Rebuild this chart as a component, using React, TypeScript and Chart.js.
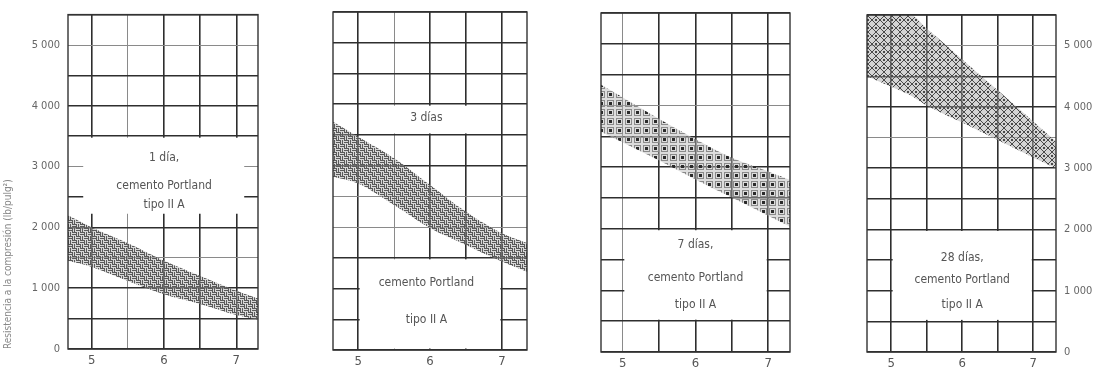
import React, { useEffect, useRef } from 'react';
import { Chart, registerables } from 'chart.js';

Chart.register(...registerables);

// ---------- data ----------
const xTickValues = [5, 5.5, 6, 6.5, 7];
const xTickLabels = ['5', '', '6', '', '7'];
const yTickValues = [0, 500, 1000, 1500, 2000, 2500, 3000, 3500, 4000, 4500, 5000, 5500];
const yTickLabels = ['0', '', '1 000', '', '2 000', '', '3 000', '', '4 000', '', '5 000', ''];
const yAxisTitle = 'Resistencia a la compresión (lb/pulg²)';

const day1X = [4.67, 5, 5.5, 6, 6.5, 7, 7.3];
const day1Upper = [2200, 2000, 1740, 1450, 1200, 960, 830];
const day1Lower = [1450, 1350, 1120, 900, 740, 560, 480];

const day3X = [4.65, 5, 5.5, 6, 6.5, 7, 7.35];
const day3Upper = [3715, 3470, 3120, 2685, 2250, 1900, 1740];
const day3Lower = [2820, 2710, 2360, 1985, 1710, 1440, 1275];

const day7X = [4.7, 5, 5.5, 6, 6.5, 7, 7.3];
const day7Upper = [4335, 4130, 3780, 3450, 3150, 2930, 2790];
const day7Lower = [3575, 3400, 3105, 2800, 2505, 2210, 2035];

const day28X = [4.66, 5, 5.27, 5.5, 6, 6.5, 7, 7.32];
const day28Upper = [5500, 5500, 5500, 5280, 4775, 4270, 3760, 3435];
const day28Lower = [4500, 4330, 4190, 4025, 3745, 3460, 3175, 3000];

const day1Text = ['1 día,', 'cemento Portland', 'tipo II A'];
const day3Text = ['3 días'];
const day3Text2 = ['cemento Portland', 'tipo II A'];
const day7Text = ['7 días,', 'cemento Portland', 'tipo II A'];
const day28Text = ['28 días,', 'cemento Portland', 'tipo II A'];

// ---------- layout / style ----------
const FONT = "'Liberation Sans Narrow', 'DejaVu Sans Condensed', 'Roboto Condensed', 'Liberation Sans', sans-serif";

type Panel = {
  left: number; width: number;
  plot: { l: number; t: number; r: number; b: number };
  xMin: number; xMax: number;
  xs: number[]; upper: number[]; lower: number[];
  pattern: 'weave' | 'dots' | 'maze';
  axis: 'left' | 'right' | 'none';
  boxes: { x0: number; x1: number; y0: number; y1: number }[];
  labels: { text: string; x: number; y: number }[];
  thinX: number[]; thinY: number[];
};

const PANELS: Panel[] = [
  {
    left: 0, width: 262, plot: { l: 68, t: 11, r: 258, b: 349 }, xMin: 4.67, xMax: 7.3,
    xs: day1X, upper: day1Upper, lower: day1Lower, pattern: 'weave', axis: 'left',
    boxes: [{ x0: 4.86, x1: 7.13, y0: 2200, y1: 3500 }],
    labels: [
      { text: day1Text[0], x: 6, y: 3144 },
      { text: day1Text[1], x: 6, y: 2690 },
      { text: day1Text[2], x: 6, y: 2366 },
    ],
    thinX: [5.5], thinY: [1500, 3000, 5000],
  },
  {
    left: 300, width: 232, plot: { l: 333, t: 12, r: 527, b: 350 }, xMin: 4.65, xMax: 7.35,
    xs: day3X, upper: day3Upper, lower: day3Lower, pattern: 'weave', axis: 'none',
    boxes: [{ x0: 5, x1: 7, y0: 3500, y1: 4000 }, { x0: 5, x1: 7, y0: 0, y1: 1500 }],
    labels: [
      { text: day3Text[0], x: 5.95, y: 3775 },
      { text: day3Text2[0], x: 5.95, y: 1090 },
      { text: day3Text2[1], x: 5.95, y: 490 },
    ],
    thinX: [5.5], thinY: [2500, 2000],
  },
  {
    left: 570, width: 225, plot: { l: 601, t: 13, r: 790, b: 352 }, xMin: 4.7, xMax: 7.3,
    xs: day7X, upper: day7Upper, lower: day7Lower, pattern: 'dots', axis: 'none',
    boxes: [{ x0: 5, x1: 7, y0: 500, y1: 2000 }],
    labels: [
      { text: day7Text[0], x: 6, y: 1737 },
      { text: day7Text[1], x: 6, y: 1200 },
      { text: day7Text[2], x: 6, y: 763 },
    ],
    thinX: [5], thinY: [4000],
  },
  {
    left: 840, width: 264, plot: { l: 867, t: 15, r: 1056, b: 352 }, xMin: 4.66, xMax: 7.32,
    xs: day28X, upper: day28Upper, lower: day28Lower, pattern: 'maze', axis: 'right',
    boxes: [{ x0: 5, x1: 7, y0: 500, y1: 2000 }],
    labels: [
      { text: day28Text[0], x: 6, y: 1533 },
      { text: day28Text[1], x: 6, y: 1175 },
      { text: day28Text[2], x: 6, y: 767 },
    ],
    thinX: [], thinY: [5000, 3500],
  },
];

function makePattern(kind: string, ctx: CanvasRenderingContext2D): CanvasPattern | string {
  const c = document.createElement('canvas');
  const g = c.getContext('2d');
  if (!g) return 'rgba(90,90,90,0.6)';
  if (kind === 'weave') {
    c.width = 8; c.height = 8;
    g.fillStyle = 'rgba(175,175,175,0.5)';
    g.fillRect(0, 0, 8, 8);
    g.fillStyle = '#5a5a5a';
    g.fillRect(0, 0, 4, 1); g.fillRect(0, 2, 4, 1);
    g.fillRect(4, 0, 1, 4); g.fillRect(6, 0, 1, 4);
    g.fillRect(0, 4, 1, 4); g.fillRect(2, 4, 1, 4);
    g.fillRect(4, 4, 4, 1); g.fillRect(4, 6, 4, 1);
  } else if (kind === 'dots') {
    c.width = 9; c.height = 9;
    g.fillStyle = 'rgba(180,180,180,0.45)';
    g.fillRect(0, 0, 9, 9);
    g.strokeStyle = '#8a8a8a';
    g.lineWidth = 1;
    g.strokeRect(1.5, 1.5, 6, 6);
    g.fillStyle = '#2a2a2a';
    g.fillRect(3, 3, 3, 3);
  } else {
    c.width = 8; c.height = 8;
    g.fillStyle = 'rgba(170,170,170,0.5)';
    g.fillRect(0, 0, 8, 8);
    g.strokeStyle = '#4a4a4a';
    g.lineWidth = 1;
    g.beginPath();
    g.moveTo(4, 0); g.lineTo(8, 4); g.lineTo(4, 8); g.lineTo(0, 4); g.closePath();
    g.stroke();
    g.fillStyle = '#4a4a4a';
    g.fillRect(3, 3, 2, 2);
  }
  return ctx.createPattern(c, 'repeat') || 'rgba(90,90,90,0.6)';
}

const decorPlugin = {
  id: 'decor',
  beforeDatasetsDraw(chart: any, _args: any, opts: any) {
    const { ctx, scales } = chart;
    const x = scales.x, y = scales.y;
    ctx.save();
    ctx.fillStyle = '#ffffff';
    (opts.boxes || []).forEach((b: any) => {
      const l = x.getPixelForValue(b.x0) + 1.5;
      const r = x.getPixelForValue(b.x1) - 1.5;
      const t = y.getPixelForValue(b.y1) + 1.5;
      const bt = y.getPixelForValue(b.y0) - 1.5;
      ctx.fillRect(l, t, r - l, bt - t);
    });
    ctx.fillStyle = '#555555';
    ctx.font = `12px ${FONT}`;
    ctx.textAlign = 'center';
    ctx.textBaseline = 'middle';
    (opts.labels || []).forEach((lb: any) => {
      ctx.fillText(lb.text, x.getPixelForValue(lb.x), y.getPixelForValue(lb.y));
    });
    ctx.restore();
  },
  afterDatasetsDraw(chart: any) {
    const { ctx, chartArea } = chart;
    ctx.save();
    ctx.strokeStyle = '#333333';
    ctx.lineWidth = 1.4;
    ctx.strokeRect(chartArea.left, chartArea.top, chartArea.right - chartArea.left, chartArea.bottom - chartArea.top);
    ctx.restore();
  },
};

function PanelChart({ p }: { p: Panel }) {
  const ref = useRef<HTMLCanvasElement | null>(null);
  useEffect(() => {
    const canvas = ref.current;
    if (!canvas) return;
    const ctx = canvas.getContext('2d');
    if (!ctx) return;
    const fill = makePattern(p.pattern, ctx);
    const canvasRight = p.left + p.width;
    const chart = new Chart(canvas, {
      type: 'line',
      data: {
        datasets: [
          {
            data: p.xs.map((v, i) => ({ x: v, y: p.lower[i] })),
            borderWidth: 0, pointRadius: 0, fill: false,
            cubicInterpolationMode: 'monotone',
            borderColor: 'rgba(0,0,0,0)',
          },
          {
            data: p.xs.map((v, i) => ({ x: v, y: p.upper[i] })),
            borderWidth: 0, pointRadius: 0, fill: '-1',
            backgroundColor: fill as any,
            cubicInterpolationMode: 'monotone',
            borderColor: 'rgba(0,0,0,0)',
          },
        ],
      },
      options: {
        animation: false,
        responsive: false,
        maintainAspectRatio: false,
        layout: {
          padding: {
            left: p.axis === 'left' ? 0 : p.plot.l - p.left,
            right: p.axis === 'right' ? 0 : canvasRight - p.plot.r,
            top: p.plot.t,
            bottom: 0,
          },
        },
        plugins: {
          legend: { display: false },
          tooltip: { enabled: false },
          decor: { boxes: p.boxes, labels: p.labels },
        } as any,
        scales: {
          x: {
            type: 'linear',
            min: p.xMin,
            max: p.xMax,
            afterBuildTicks: (s: any) => { s.ticks = xTickValues.map((v) => ({ value: v })); },
            afterFit: (s: any) => { s.height = 377 - p.plot.b; },
            ticks: {
              autoSkip: false,
              maxRotation: 0,
              padding: 4,
              color: '#555',
              font: { family: FONT, size: 13 },
              callback: (v: any) => xTickLabels[xTickValues.indexOf(Number(v))] ?? '',
            },
            grid: {
              drawTicks: false,
              lineWidth: (c: any) => (p.thinX.includes(c.tick?.value) ? 1 : 1.6),
              color: (c: any) => (p.thinX.includes(c.tick?.value) ? '#8a8a8a' : '#2e2e2e'),
            },
            border: { display: false },
          },
          y: {
            type: 'linear',
            position: p.axis === 'right' ? 'right' : 'left',
            min: 0,
            max: 5500,
            afterBuildTicks: (s: any) => { s.ticks = yTickValues.map((v) => ({ value: v })); },
            afterFit: (s: any) => {
              s.width = p.axis === 'left' ? p.plot.l - p.left : p.axis === 'right' ? canvasRight - p.plot.r : 0;
            },
            ticks: {
              display: p.axis !== 'none',
              autoSkip: false,
              padding: 8,
              color: '#666',
              font: { family: FONT, size: 11 },
              callback: (v: any) => yTickLabels[yTickValues.indexOf(Number(v))] ?? '',
            },
            title: {
              display: p.axis === 'left',
              text: yAxisTitle,
              align: 'start',
              color: '#888',
              font: { family: FONT, size: 10 },
              padding: { top: 2, bottom: 0 },
            },
            grid: {
              drawTicks: false,
              lineWidth: (c: any) => (p.thinY.includes(c.tick?.value) ? 1 : 1.5),
              color: (c: any) => (p.thinY.includes(c.tick?.value) ? '#8a8a8a' : '#2e2e2e'),
            },
            border: { display: false },
          },
        },
      } as any,
      plugins: [decorPlugin as any],
    });
    return () => chart.destroy();
  }, [p]);
  return (
    <canvas
      ref={ref}
      width={p.width}
      height={377}
      style={{ position: 'absolute', left: p.left, top: 0, width: p.width, height: 377, display: 'block' }}
    />
  );
}

export default function App() {
  return (
    <div style={{ position: 'absolute', left: 0, top: 0, width: 1104, height: 377, background: '#ffffff', overflow: 'hidden' }}>
      {PANELS.map((p, i) => (
        <PanelChart key={i} p={p} />
      ))}
    </div>
  );
}
